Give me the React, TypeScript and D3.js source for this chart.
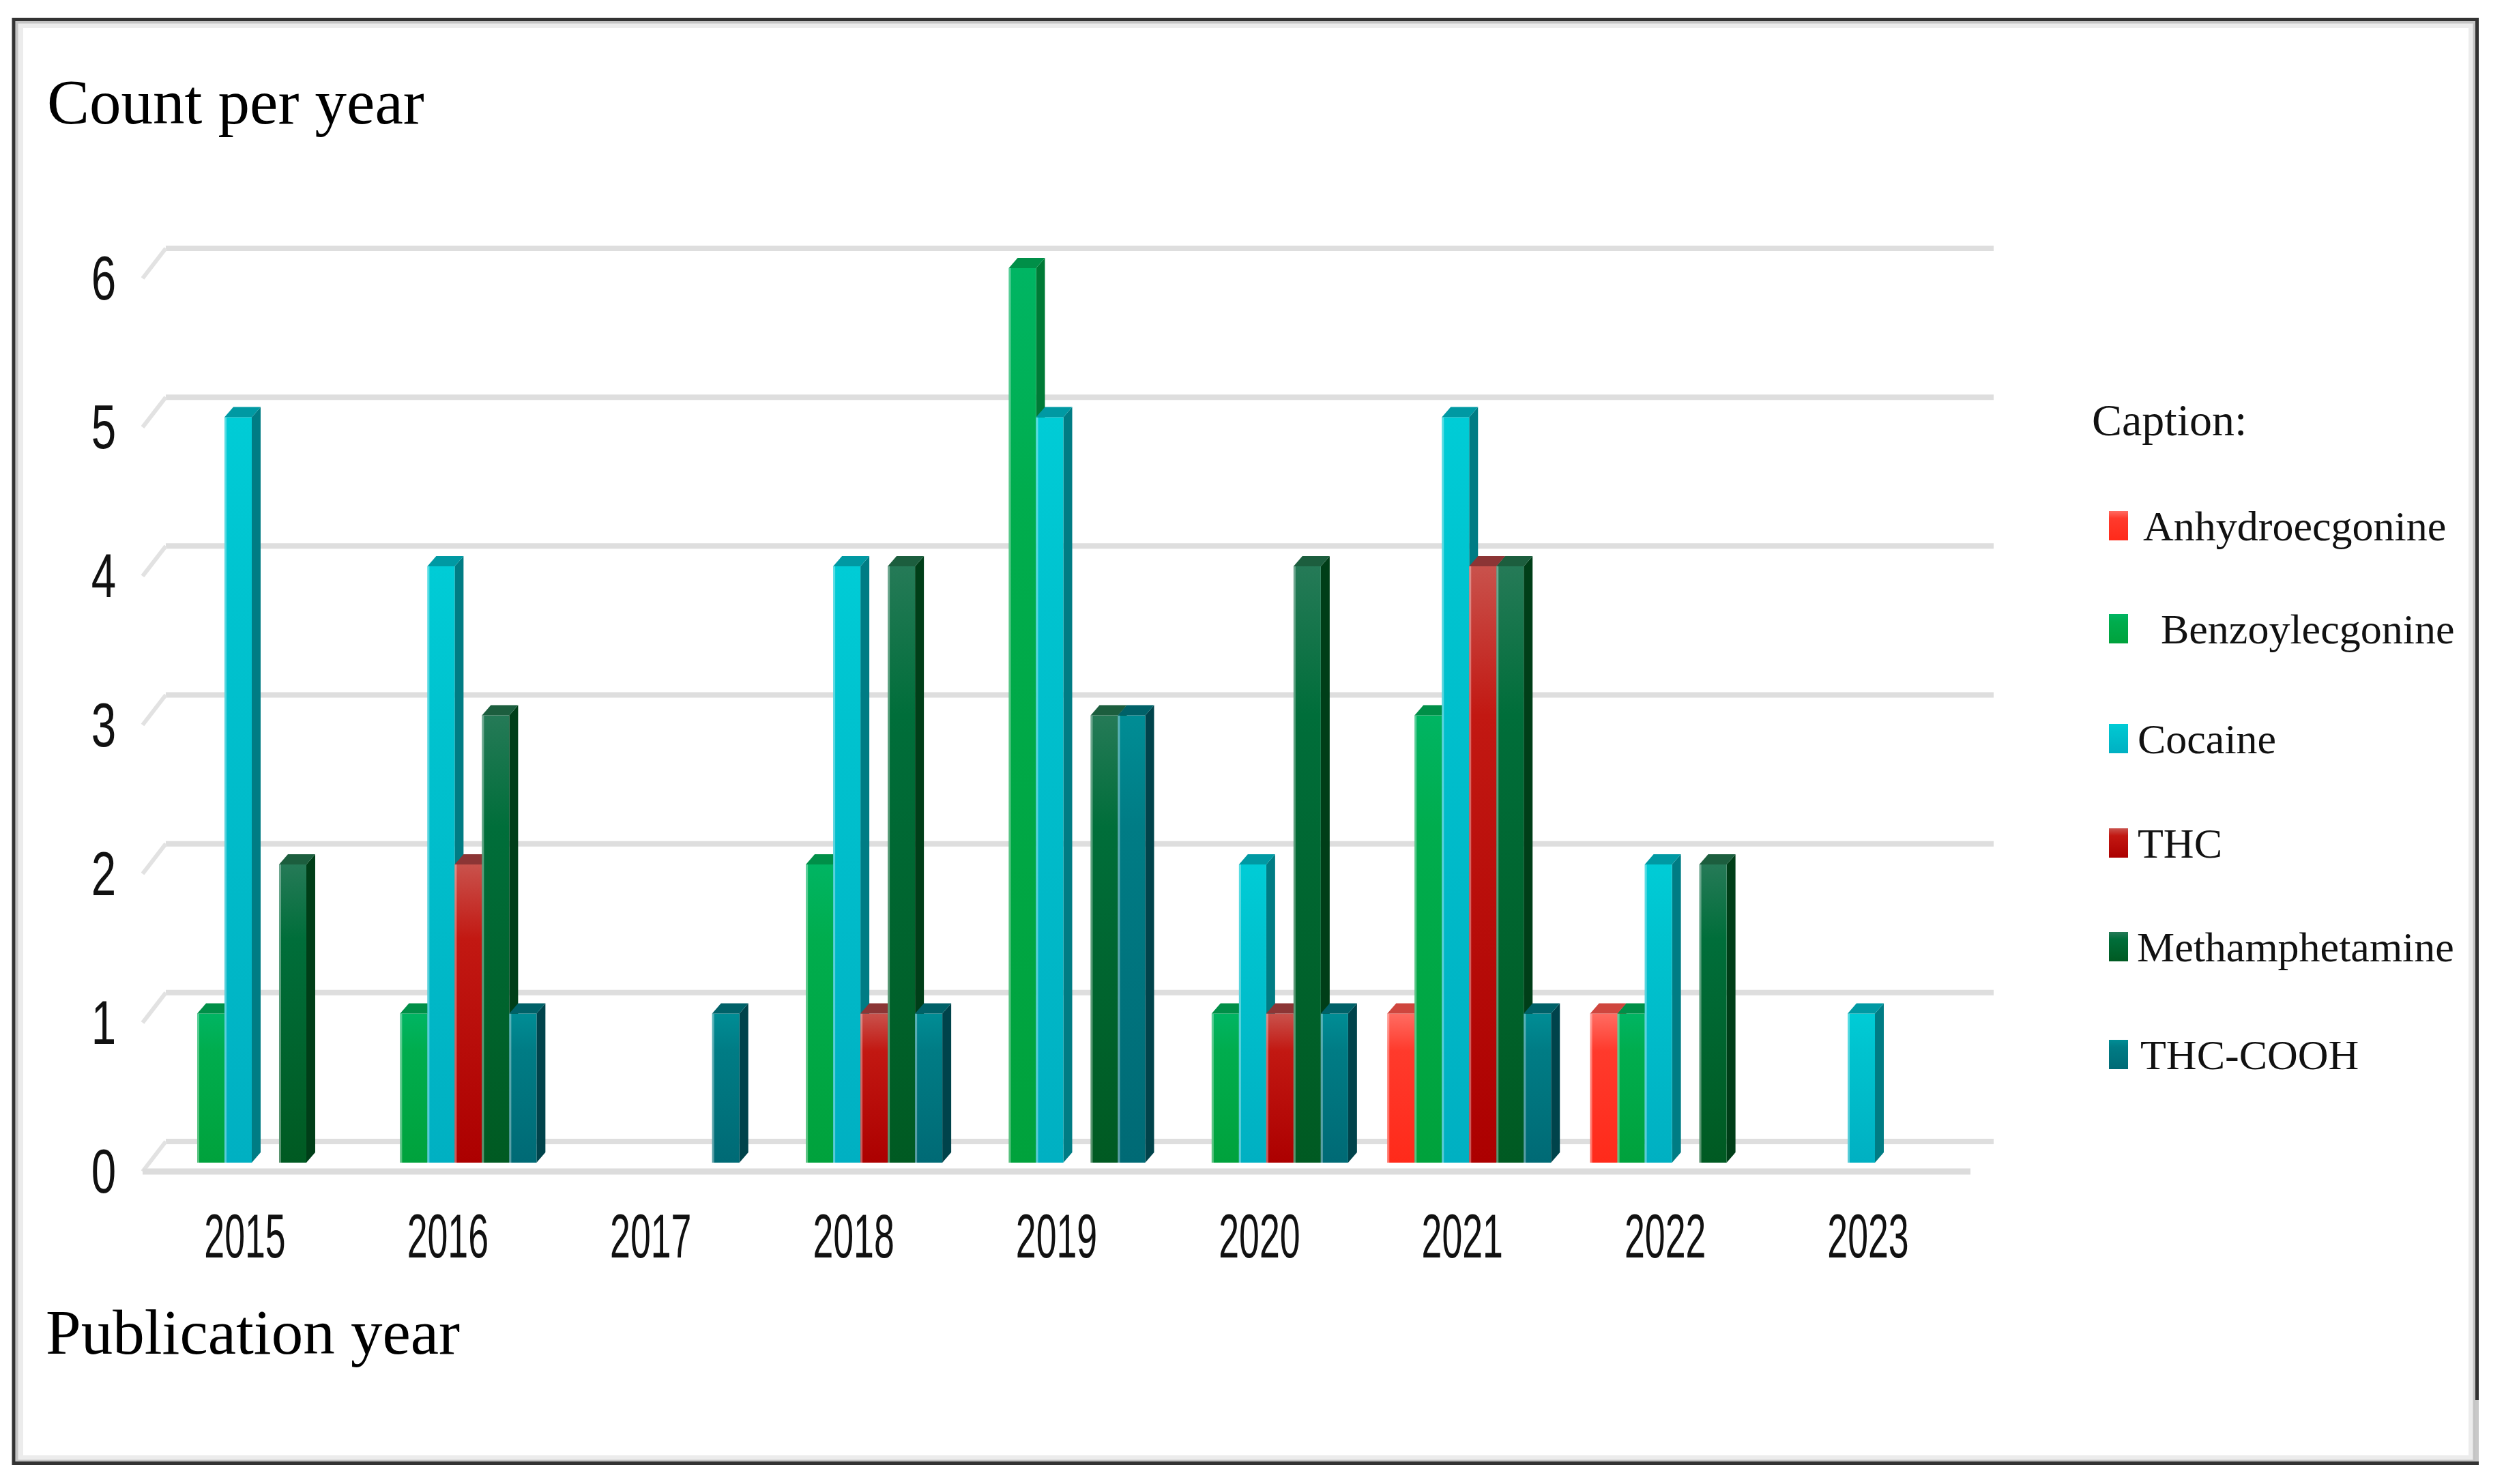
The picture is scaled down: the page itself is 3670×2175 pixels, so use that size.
import React from "react";
import * as d3 from "d3";

const years = ["2015", "2016", "2017", "2018", "2019", "2020", "2021", "2022", "2023"];
const seriesNames = ["Anhydroecgonine", "Benzoylecgonine", "Cocaine", "THC", "Methamphetamine", "THC-COOH"];
const anhydroecgonine = [0, 0, 0, 0, 0, 0, 1, 1, 0];
const benzoylecgonine = [1, 1, 0, 2, 6, 1, 3, 1, 0];
const cocaine = [5, 4, 0, 4, 5, 2, 5, 2, 1];
const thc = [0, 2, 0, 1, 0, 1, 4, 0, 0];
const methamphetamine = [2, 3, 0, 4, 3, 4, 4, 2, 0];
const thcCooh = [0, 1, 1, 1, 3, 1, 1, 0, 0];
const yTicks = [0, 1, 2, 3, 4, 5, 6];
const legendLabels = ["Anhydroecgonine", "  Benzoylecgonine", "Cocaine", "THC", "Methamphetamine", "THC-COOH"];

const seriesValues = [anhydroecgonine, benzoylecgonine, cocaine, thc, methamphetamine, thcCooh];

const palette = [
  { top: "#ff6c62", mid: "#ff3a2c", bot: "#ff2a1a", side: "#b8241a", cap: "#cf463e" },
  { top: "#00b563", mid: "#00ad4e", bot: "#00a23c", side: "#007a36", cap: "#008f48" },
  { top: "#00ccd6", mid: "#00c3cf", bot: "#00b0c2", side: "#007c84", cap: "#0099a3" },
  { top: "#c9524c", mid: "#c21812", bot: "#ac0000", side: "#7c0c0c", cap: "#8c3535" },
  { top: "#257a57", mid: "#006e3a", bot: "#005a22", side: "#003e18", cap: "#1c5e3e" },
  { top: "#008d95", mid: "#007c85", bot: "#006a75", side: "#00434b", cap: "#006168" },
];

export default function App() {
  const W = 3670, H = 2175;
  const x0 = d3.scaleBand<string>().domain(years).range([249, 2868]).paddingInner(0.193).paddingOuter(0);
  const x1 = d3.scaleBand<string>().domain(seriesNames).range([0, x0.bandwidth()]);
  const yBack = d3.scaleLinear().domain([0, 6]).range([1673, 364]);
  const yBar = d3.scaleLinear().domain([0, 6]).range([1704, 393]);
  const depthX = -34, depthY = 44;
  const gridLeft = 243, gridRight = 2922;
  const dx = 13, dy = -15;
  const bw = x1.bandwidth();
  const serifFont = "'Liberation Serif', 'Times New Roman', serif";
  const sansFont = "'Liberation Sans', Arial, sans-serif";

  const bars: any[] = [];
  years.forEach((yr, yi) => {
    seriesNames.forEach((s, si) => {
      const v = seriesValues[si][yi];
      if (!v) return;
      const xl = (x0(yr) as number) + (x1(s) as number);
      const xr = xl + bw;
      const yt = yBar(v);
      const base = yBar(0);
      const p = palette[si];
      bars.push(
        <g key={`${yr}-${s}`}>
          <polygon
            points={`${xr},${yt} ${xr + dx},${yt + dy} ${xr + dx},${base + dy} ${xr},${base}`}
            fill={p.side}
          />
          <rect x={xl} y={yt} width={bw} height={base - yt} fill={`url(#grad${si})`} />
          <line x1={xl + 1.5} x2={xl + 1.5} y1={yt} y2={base} stroke="#ffffff" strokeOpacity={0.35} strokeWidth={3} />
          <polygon
            points={`${xl},${yt} ${xl + dx},${yt + dy} ${xr + dx},${yt + dy} ${xr},${yt}`}
            fill={p.cap}
          />
        </g>
      );
    });
  });

  const legendRowBaselines = [792, 943, 1104, 1257, 1409, 1567];
  const legendTextX = [3141, 3167, 3133, 3133, 3132, 3137];

  return (
    <svg width={W} height={H} style={{ position: "absolute", left: 0, top: 0, display: "block", background: "#fff" }}>
      <defs>
        {palette.map((p, i) => (
          <linearGradient key={i} id={`grad${i}`} x1="0" y1="0" x2="0" y2="1">
            <stop offset="0%" stopColor={p.top} />
            <stop offset="25%" stopColor={p.mid} />
            <stop offset="100%" stopColor={p.bot} />
          </linearGradient>
        ))}
      </defs>
      <rect x={0} y={0} width={W} height={H} fill="#ffffff" />

      {/* frame */}
      <rect x={30} y={37} width={3592} height={2100} fill="none" stroke="#ececec" strokeWidth={8} />
      <rect x={24.5} y={32.5} width={3602} height={2109} fill="none" stroke="#c4c4c4" strokeWidth={4} />
      <line x1={20} x2={20} y1={26} y2={2147} stroke="#333" strokeWidth={5} />
      <line x1={18} x2={3633} y1={28.5} y2={28.5} stroke="#333" strokeWidth={5} />
      <line x1={18} x2={3633} y1={2144.5} y2={2144.5} stroke="#333" strokeWidth={5} />
      <line x1={3630.5} x2={3630.5} y1={26} y2={2052} stroke="#333" strokeWidth={5} />
      <line x1={3630.5} x2={3630.5} y1={2052} y2={2142} stroke="#c8c8c8" strokeWidth={5} />

      {/* titles */}
      <text x={69} y={181} fontFamily={serifFont} fontSize={93} fill="#000">Count per year</text>
      <text x={67} y={1984} fontFamily={serifFont} fontSize={93} fill="#000">Publication year</text>

      {/* grid (back wall + left wall) */}
      {yTicks.map((t) => (
        <g key={`g${t}`}>
          <line x1={gridLeft} x2={gridRight} y1={yBack(t)} y2={yBack(t)} stroke="#dedede" strokeWidth={8} />
          <line x1={gridLeft} x2={gridLeft + depthX} y1={yBack(t)} y2={yBack(t) + depthY} stroke="#e2e2e2" strokeWidth={6} />
        </g>
      ))}
      {/* floor front edge */}
      <line x1={gridLeft + depthX} x2={gridRight + depthX} y1={yBack(0) + depthY} y2={yBack(0) + depthY} stroke="#dcdcdc" strokeWidth={9} />

      {/* y tick labels */}
      {yTicks.map((t) => (
        <g key={`yl${t}`} transform={`translate(152,${yBack(t) + depthY + 31}) scale(0.72,1)`}>
          <text x={0} y={0} textAnchor="middle" fontFamily={sansFont} fontSize={91} fill="#111">{t}</text>
        </g>
      ))}

      {/* bars */}
      {bars}

      {/* x labels */}
      {years.map((yr) => (
        <g key={`xl${yr}`} transform={`translate(${(x0(yr) as number) + x0.bandwidth() / 2 - 10},1843) scale(0.59,1)`}>
          <text x={0} y={0} textAnchor="middle" fontFamily={sansFont} fontSize={91} fill="#111">{yr}</text>
        </g>
      ))}

      {/* legend */}
      <text x={3066} y={638} fontFamily={serifFont} fontSize={66} fill="#111">Caption:</text>
      {legendLabels.map((lab, i) => (
        <g key={`lg${i}`}>
          <rect x={3091} y={legendRowBaselines[i] - 43} width={28} height={43} fill={`url(#grad${i})`} />
          <text x={legendTextX[i]} y={legendRowBaselines[i]} fontFamily={serifFont} fontSize={62} fill="#111" style={{ whiteSpace: "pre" }}>
            {lab.trim()}
          </text>
        </g>
      ))}
    </svg>
  );
}
